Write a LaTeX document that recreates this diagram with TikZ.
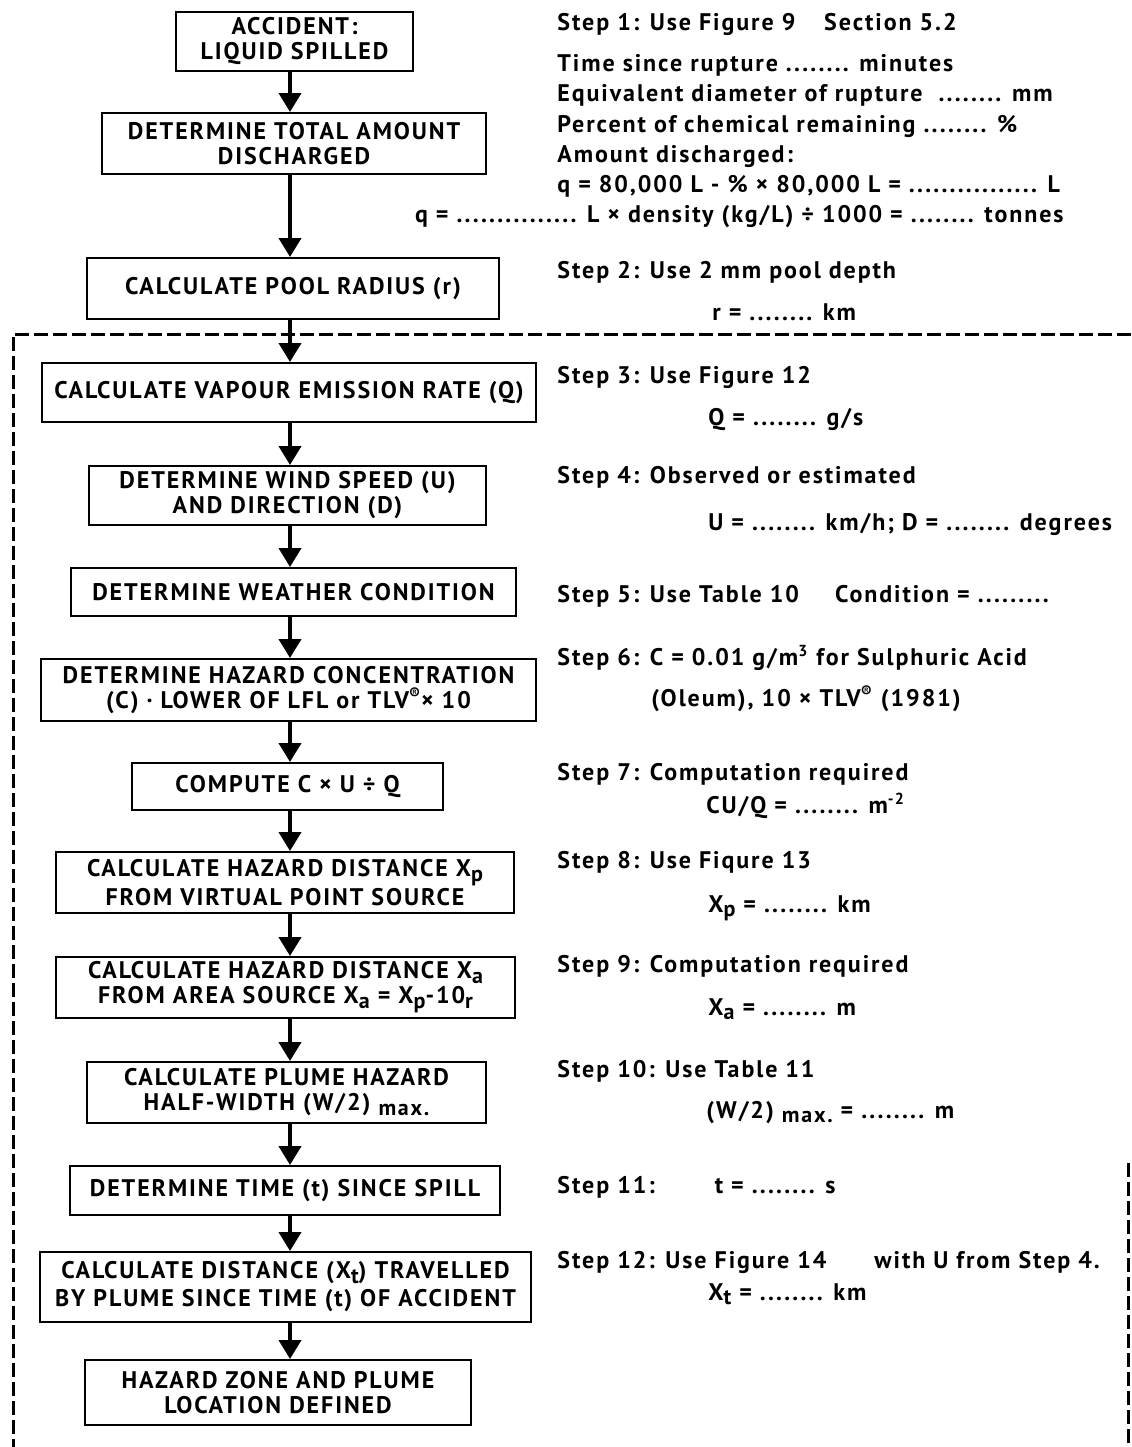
\documentclass[tikz,border=0pt]{standalone}
\usepackage{fontspec}
\setmainfont{PT Sans}
\newfontfamily\chartfont{PT Sans}[LetterSpace=8]
\usepackage{tikz}
\usetikzlibrary{arrows.meta}

% lowered index letters as printed in the chart
\newcommand{\lo}[1]{\raisebox{-0.4ex}{\fontsize{11}{11}\selectfont #1}}

\begin{document}
\begin{tikzpicture}[x=0.5pt, y=-0.5pt,
  box/.style={draw, line width=1pt, align=center, inner sep=0pt, font=\chartfont\bfseries\fontsize{12}{12.5}\selectfont},
  note/.style={anchor=base west, inner sep=0pt, font=\chartfont\bfseries\fontsize{12}{13}\selectfont},
  flow/.style={line width=2pt, -{Triangle[width=11pt, length=9.5pt]}}]
  \useasboundingbox (0,0) rectangle (1131,1447);

  % ----- Flow chart boxes -----
  \node[box, minimum width=118.5pt, minimum height=29.5pt] (b1) at (294.5,41.5) {ACCIDENT:\\LIQUID SPILLED};
  \node[box, minimum width=192pt, minimum height=30.5pt] (b2) at (294,143.5) {DETERMINE TOTAL AMOUNT\\DISCHARGED};
  \node[box, minimum width=206pt, minimum height=30.5pt] (b3) at (293,288.5) {CALCULATE POOL RADIUS (r)};
  \node[box, minimum width=247pt, minimum height=29.5pt] (b4) at (289,392.5) {CALCULATE VAPOUR EMISSION RATE (Q)};
  \node[box, minimum width=198.5pt, minimum height=29.5pt] (b5) at (287.5,495.5) {DETERMINE WIND SPEED (U)\\AND DIRECTION (D)};
  \node[box, minimum width=222.5pt, minimum height=24pt] (b6) at (293.5,592) {DETERMINE WEATHER CONDITION};
  \node[box, minimum width=247.5pt, minimum height=31pt] (b7) at (288.5,690) {DETERMINE HAZARD CONCENTRATION\\(C) · LOWER OF LFL or TLV\textsuperscript{®}× 10};
  \node[box, minimum width=155.5pt, minimum height=23.5pt] (b8) at (287.5,786.5) {COMPUTE C × U ÷ Q};
  \node[box, minimum width=229pt, minimum height=30.5pt] (b9) at (285,882.5) {CALCULATE HAZARD DISTANCE X\lo{p}\\FROM VIRTUAL POINT SOURCE};
  \node[box, minimum width=229.5pt, minimum height=30.5pt] (b10) at (285.5,987.5) {CALCULATE HAZARD DISTANCE X\lo{a}\\FROM AREA SOURCE X\lo{a} = X\lo{p}-10\lo{r}};
  \node[box, minimum width=199.5pt, minimum height=30.5pt] (b11) at (286.5,1092.5) {CALCULATE PLUME HAZARD\\HALF-WIDTH (W/2) \lo{max.}};
  \node[box, minimum width=215pt, minimum height=24.5pt] (b12) at (285,1190.5) {DETERMINE TIME (t) SINCE SPILL};
  \node[box, minimum width=245.5pt, minimum height=35pt] (b13) at (285.5,1287) {CALCULATE DISTANCE (X\lo{t}) TRAVELLED\\[1.5pt]BY PLUME SINCE TIME (t) OF ACCIDENT};
  \node[box, minimum width=193pt, minimum height=32.5pt] (b14) at (278,1392.5) {HAZARD ZONE AND PLUME\\LOCATION DEFINED};

  % arrows run down one line
  \coordinate (spine) at (290,0);
  \foreach \a/\b in {b1/b2, b2/b3, b3/b4, b4/b5, b5/b6, b6/b7, b7/b8, b8/b9, b9/b10, b10/b11, b11/b12, b12/b13, b13/b14}
    \draw[flow] (\a.south -| spine) -- (\b.north -| spine);

  % ----- Dashed frame -----
  \draw[line width=1.5pt, dash pattern=on 7pt off 2.5pt] (1131,334) -- (13,334) -- (13,1447);
  \draw[line width=1.5pt, dash pattern=on 7pt off 2.5pt] (1128,1163) -- (1128,1447);

  % ----- Step notes -----
  \node[note] (st1) at (557,30) {Step 1: Use Figure 9\hspace{1.2em}Section 5.2};
  \node[note] (st1a) at (557,71) {Time since rupture ........ minutes};
  \node[note] (st1b) at (557,101) {Equivalent diameter of rupture\ \ ........ mm};
  \node[note] (st1c) at (557,132) {Percent of chemical remaining ........ \%};
  \node[note] (st1d) at (557,162) {Amount discharged:};
  \node[note] (st1e) at (557,192) {q = 80,000 L - \% × 80,000 L = ................ L};
  \node[note, anchor=base east] (st1f) at (1064,222) {q = ............... L × density (kg/L) ÷ 1000 = ........ tonnes};
  \node[note] (st2) at (557,278) {Step 2: Use 2 mm pool depth};
  \node[note] (st2a) at (712,320) {r = ........ km};
  \node[note] (st3) at (557,383) {Step 3: Use Figure 12};
  \node[note] (st3a) at (708,425) {Q = ........ g/s};
  \node[note] (st4) at (557,483) {Step 4: Observed or estimated};
  \node[note] (st4a) at (708,530) {U = ........ km/h; D = ........ degrees};
  \node[note] (st5) at (557,602) {Step 5: Use Table 10\hspace{1.5em}Condition = .........};
  \node[note] (st6) at (557,665) {Step 6: C = 0.01 g/m\textsuperscript{3} for Sulphuric Acid};
  \node[note] (st6a) at (651,706) {(Oleum), 10 × TLV\textsuperscript{®} (1981)};
  \node[note] (st7) at (557,780) {Step 7: Computation required};
  \node[note] (st7a) at (706,813) {CU/Q = ........ m\textsuperscript{-2}};
  \node[note] (st8) at (557,868) {Step 8: Use Fiqure 13};
  \node[note] (st8a) at (708,912) {X\lo{p} = ........ km};
  \node[note] (st9) at (557,972) {Step 9: Computation required};
  \node[note] (st9a) at (708,1015) {X\lo{a} = ........ m};
  \node[note] (st10) at (557,1077) {Step 10: Use Table 11};
  \node[note] (st10a) at (706,1118) {(W/2) \lo{max.} = ........ m};
  \node[note] (st11) at (557,1193) {Step 11:\hspace{2.5em}t = ........ s};
  \node[note] (st12) at (557,1268) {Step 12: Use Figure 14\hspace{2em}with U from Step 4.};
  \node[note] (st12a) at (708,1300) {X\lo{t} = ........ km};
\end{tikzpicture}
\end{document}
